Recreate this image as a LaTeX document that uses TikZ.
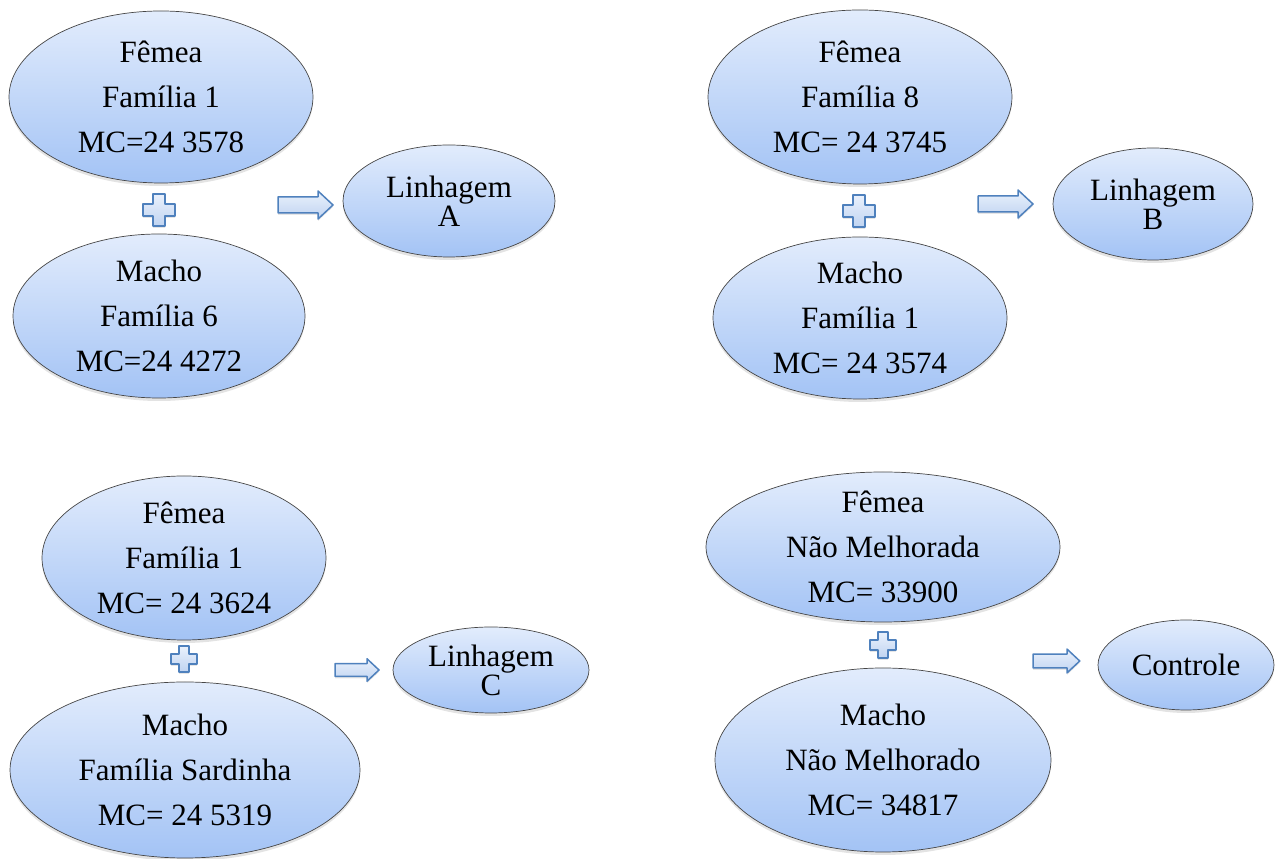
\documentclass[tikz,border=0pt]{standalone}
\usepackage{fontspec}
\setmainfont{Liberation Serif}
\usepackage{xcolor}
\usetikzlibrary{shapes.geometric,shadows}
\definecolor{elltop}{RGB}{226,236,252}
\definecolor{ellbot}{RGB}{163,195,245}
\definecolor{markline}{RGB}{79,129,189}
\definecolor{marktop}{RGB}{234,241,252}
\definecolor{markbot}{RGB}{192,212,241}

\tikzset{
  parent/.style={ellipse, draw=gray!55!black, line width=0.7pt,
    top color=elltop, bottom color=ellbot, inner sep=-10pt, align=center,
    font=\fontsize{31}{45}\selectfont,
    drop shadow={opacity=0.22, shadow xshift=0pt, shadow yshift=-3pt}},
  lineage/.style={parent, font=\fontsize{31}{29}\selectfont},
  markpath/.style={draw=markline, line width=1.5pt, line join=round,
    top color=marktop, bottom color=markbot,
    drop shadow={opacity=0.2, shadow xshift=0pt, shadow yshift=-2pt}},
  plussign/.pic={
    \path[markpath] (-6,-16) -- (6,-16) -- (6,-6) -- (16,-6) -- (16,6) -- (6,6)
      -- (6,16) -- (-6,16) -- (-6,6) -- (-16,6) -- (-16,-6) -- (-6,-6) -- cycle;},
  blockarr/.pic={
    \path[markpath] (0,-8) -- (40,-8) -- (40,-14) -- (55,0) -- (40,14) -- (40,8)
      -- (0,8) -- cycle;}
}

\begin{document}
\begin{tikzpicture}[x=1pt, y=1pt]
    \useasboundingbox (0,0) rectangle (1275,859);

    % Linhagem A
    \node[parent, minimum width=304, minimum height=172] (femA) at (161,762) {Fêmea\\Família 1\\MC=24 3578};
    \node[parent, minimum width=292, minimum height=164] (macA) at (159,543) {Macho\\Família 6\\MC=24 4272};
    \pic (plusA) at (159,649) {plussign};
    \pic (arrA) at (278,654) {blockarr};
    \node[lineage, minimum width=212, minimum height=112] (linA) at (449,658) {Linhagem\\A};

    % Linhagem B
    \node[parent, minimum width=304, minimum height=174] (femB) at (860,762) {Fêmea\\Família 8\\MC= 24 3745};
    \node[parent, minimum width=294, minimum height=162] (macB) at (860,541) {Macho\\Família 1\\MC= 24 3574};
    \pic (plusB) at (859,648) {plussign};
    \pic (arrB) at (978,655) {blockarr};
    \node[lineage, minimum width=200, minimum height=112] (linB) at (1153,655) {Linhagem\\B};

    % Linhagem C
    \node[parent, minimum width=284, minimum height=164] (femC) at (184,301) {Fêmea\\Família 1\\MC= 24 3624};
    \node[parent, minimum width=350, minimum height=176] (macC) at (185,89) {Macho\\Família Sardinha\\MC= 24 5319};
    \pic[scale=0.8] (plusC) at (184,200) {plussign};
    \pic[scale=0.8] (arrC) at (335,189) {blockarr};
    \node[lineage, minimum width=196, minimum height=86] (linC) at (491,189) {Linhagem\\C};

    % Controle
    \node[parent, minimum width=354, minimum height=150] (femD) at (883,312) {Fêmea\\Não Melhorada\\MC= 33900};
    \node[parent, minimum width=336, minimum height=184] (macD) at (883,99) {Macho\\Não Melhorado\\MC= 34817};
    \pic[scale=0.8] (plusD) at (883,214) {plussign};
    \pic[scale=0.85] (arrD) at (1033,198) {blockarr};
    \node[parent, minimum width=176, minimum height=90] (ctl) at (1186,194) {Controle};
\end{tikzpicture}
\end{document}
